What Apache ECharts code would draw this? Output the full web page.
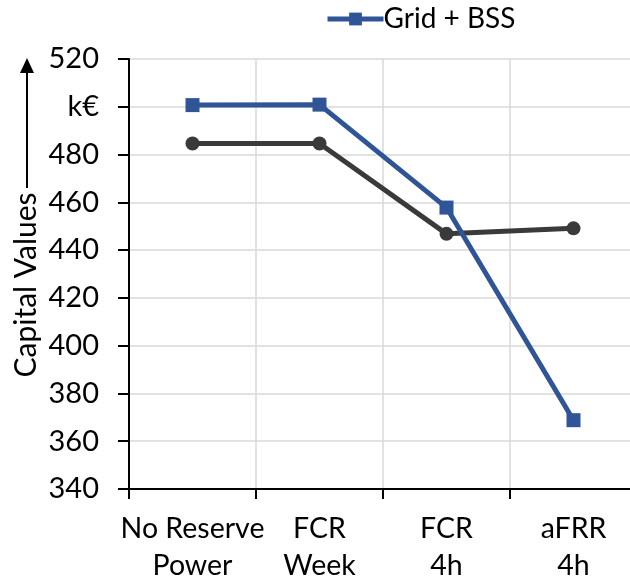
<!DOCTYPE html>
<html>
<head>
<meta charset="utf-8">
<script src="https://cdn.jsdelivr.net/npm/echarts@6/dist/echarts.min.js"></script>
<style>html,body{margin:0;padding:0;background:#fff;overflow:hidden;}#c{width:640px;height:584px;}</style>
</head>
<body>
<div id="c"></div>
<script>
const categories = ['No Reserve\nPower', 'FCR\nWeek', 'FCR\n4h', 'aFRR\n4h'];
const gridValues = [484.6, 484.6, 446.8, 449.1];
const gridBssValues = [500.7, 500.9, 457.8, 368.8];
const yTickValues = [340, 360, 380, 400, 420, 440, 460, 480, 500, 520];
const yTickLabels = ['340', '360', '380', '400', '420', '440', '460', '480', 'k€', '520'];
const seriesNames = ['Grid', 'Grid + BSS'];
const yTitle = 'Capital Values';

const FONT = 'Lato';
const chart = echarts.init(document.getElementById('c'), null, {renderer: 'canvas'});
chart.setOption({
  animation: false,
  backgroundColor: '#fff',
  textStyle: {fontFamily: FONT},
  legend: {
    data: [seriesNames[1]],
    left: 320, top: 0,
    itemWidth: 56, itemHeight: 16, itemGap: 10,
    lineStyle: {width: 5},
    textStyle: {fontFamily: FONT, fontSize: 28, color: '#000', padding: [0,0,0,-5]}
  },
  grid: {left: 129, top: 59, right: 3, bottom: 95, containLabel: false},
  xAxis: {
    type: 'category',
    data: categories,
    boundaryGap: true,
    axisLine: {lineStyle: {color: '#000', width: 2}},
    axisTick: {show: true, length: 10, lineStyle: {color: '#000', width: 2}},
    splitLine: {show: true, lineStyle: {color: '#d9d9d9', width: 1.5}},
    axisLabel: {color: '#000', fontFamily: FONT, fontSize: 28.5, lineHeight: 37, margin: 21, interval: 0}
  },
  yAxis: {
    type: 'value',
    min: yTickValues[0], max: yTickValues[yTickValues.length - 1], interval: 20,
    axisLine: {show: true, lineStyle: {color: '#000', width: 2}},
    axisTick: {show: true, length: 11, lineStyle: {color: '#000', width: 2}},
    splitLine: {show: true, lineStyle: {color: '#d9d9d9', width: 1.5}},
    axisLabel: {
      color: '#000', fontFamily: FONT, fontSize: 29, margin: 30,
      formatter: function (v) { const i = yTickValues.indexOf(v); return i >= 0 ? yTickLabels[i] : ''; }
    }
  },
  graphic: [
    {type: 'text', x: 26, y: 285, rotation: Math.PI / 2,
     style: {text: yTitle, font: '30px Lato', fill: '#000', align: 'center', verticalAlign: 'middle'}},
    {type: 'line', shape: {x1: 27, y1: 188, x2: 27, y2: 70}, style: {stroke: '#000', lineWidth: 2}},
    {type: 'polygon', shape: {points: [[20, 73], [34, 73], [27, 58]]}, style: {fill: '#000'}}
  ],
  series: [
    {
      name: seriesNames[0], type: 'line', data: gridValues,
      symbol: 'circle', symbolSize: 14,
      lineStyle: {color: '#3a3a3a', width: 5},
      itemStyle: {color: '#3a3a3a'},
      z: 2
    },
    {
      name: seriesNames[1], type: 'line', data: gridBssValues,
      symbol: 'rect', symbolSize: 14,
      lineStyle: {color: '#2f5597', width: 5},
      itemStyle: {color: '#2f5597'},
      z: 3
    }
  ]
});
</script>
</body>
</html>
